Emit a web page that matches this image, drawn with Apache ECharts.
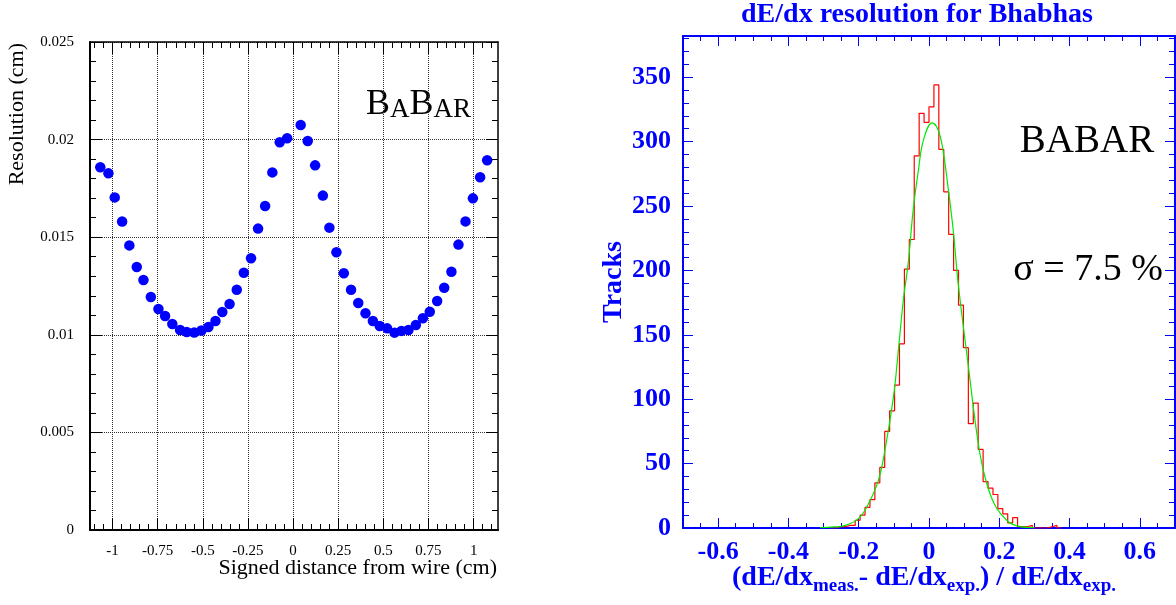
<!DOCTYPE html>
<html>
<head>
<meta charset="utf-8">
<script src="https://cdn.jsdelivr.net/npm/echarts@6/dist/echarts.min.js"></script>
<style>
  html, body { margin: 0; padding: 0; background: #ffffff; }
  #chart { width: 1176px; height: 605px; }
</style>
</head>
<body>
<div id="chart"></div>
<script>
///////////////////////////////////////////////////
// Used data
///////////////////////////////////////////////////

// Left panel: drift resolution vs signed distance from wire
var distance = [
  -1.068, -1.023, -0.988, -0.947, -0.907, -0.866, -0.829, -0.788, -0.746, -0.709,
  -0.669, -0.626, -0.589, -0.548, -0.508, -0.469, -0.430, -0.392, -0.352, -0.312,
  -0.273, -0.233, -0.194, -0.155, -0.115, -0.074, -0.033, 0.042, 0.081, 0.122,
  0.165, 0.201, 0.240, 0.281, 0.321, 0.361, 0.401, 0.442, 0.480, 0.521,
  0.562, 0.600, 0.639, 0.680, 0.719, 0.757, 0.798, 0.837, 0.877, 0.916,
  0.955, 0.996, 1.036, 1.075
];
var resolution = [
  0.01858, 0.01827, 0.01704, 0.01580, 0.01458, 0.01347, 0.01281, 0.01194, 0.01132, 0.01096,
  0.01055, 0.01025, 0.01014, 0.01012, 0.01022, 0.01040, 0.01071, 0.01117, 0.01158, 0.01231,
  0.01318, 0.01392, 0.01544, 0.01660, 0.01832, 0.01986, 0.02007, 0.02075, 0.01993, 0.01868,
  0.01713, 0.01549, 0.01423, 0.01315, 0.01231, 0.01163, 0.01110, 0.01071, 0.01045, 0.01033,
  0.01011, 0.01020, 0.01025, 0.01050, 0.01085, 0.01118, 0.01173, 0.01241, 0.01323, 0.01462,
  0.01581, 0.01699, 0.01807, 0.01894
];
var leftXTicks = [-1, -0.75, -0.5, -0.25, 0, 0.25, 0.5, 0.75, 1];
var leftYTicks = [0, 0.005, 0.01, 0.015, 0.02, 0.025];

// Right panel: dE/dx histogram (bins of 0.014 starting at -0.7), first listed bin = 30
var histStart = -0.7;
var binWidth = 0.014;
var firstBin = 30;
var counts = [
  0, 1, 1, 2, 2, 6, 10, 16, 22, 35,
  47, 75, 91, 111, 143, 201, 224, 289, 322, 315,
  327, 344, 294, 261, 228, 200, 173, 140, 81, 97,
  61, 36, 31, 26, 15, 11, 4, 8, 1, 1,
  2, 0, 0, 0, 1, 2, 0
];
// gaussian fit curve
var fitX = [-0.31, -0.27, -0.24, -0.2, -0.172, -0.144, -0.125, -0.101, -0.09, -0.073,
  -0.059, -0.045, -0.03, -0.016, 0.009, 0.026, 0.04, 0.054, 0.069, 0.083,
  0.11, 0.14, 0.159, 0.187, 0.225, 0.253, 0.3];
var fitY = [0.3, 0.8, 1.8, 7.5, 19, 37, 61, 102, 130, 177,
  206, 247, 278, 301, 314.5, 309, 293, 265, 231, 190,
  130, 66, 40, 18, 5, 1.5, 0.3];
var rightXTicks = [-0.6, -0.4, -0.2, 0, 0.2, 0.4, 0.6];
var rightYTicks = [0, 50, 100, 150, 200, 250, 300, 350];

// x title of the right panel: [text, is subscript]
var xTitleParts = [
  ['(dE/dx', false], ['meas.', true], ['- dE/dx', false],
  ['exp.', true], [') / dE/dx', false], ['exp.', true]
];

///////////////////////////////////////////////////
// Helpers
///////////////////////////////////////////////////
var serif = '"Liberation Serif", "Times New Roman", serif';
var blue = '#0000ff';

// minor tick positions between majors
function minorTicks(from, to, step, majors) {
  var out = [];
  var n = Math.round((to - from) / step);
  for (var i = 0; i <= n; i++) {
    var v = +(from + i * step).toFixed(4);
    if (majors.indexOf(v) < 0) out.push(v);
  }
  return out;
}

function frameAxis(o) {
  return {
    type: 'value',
    gridIndex: o.grid,
    position: o.pos,
    min: o.min,
    max: o.max,
    name: o.name || '',
    nameLocation: 'middle',
    nameGap: o.nameGap || 0,
    nameTextStyle: o.nameStyle || {},
    axisLine: {
      show: o.line !== false,
      onZero: false,
      lineStyle: { color: o.color, width: o.lineWidth || 2 },
    },
    axisTick: {
      show: true,
      inside: true,
      length: o.len,
      customValues: o.ticks,
      lineStyle: { color: o.color, width: 1 },
    },
    axisLabel: o.labels
      ? Object.assign({ show: true, customValues: o.ticks }, o.labels)
      : { show: false },
    splitLine: o.split
      ? { show: true, lineStyle: { color: '#333', type: 'dotted', width: 1 } }
      : { show: false },
    minorTick: { show: false },
    minorSplitLine: { show: false },
  };
}

// lay out the sub-scripted x title as separate text pieces
function subscriptTitle(parts, cx, cy) {
  var ctx = document.createElement('canvas').getContext('2d');
  var mainFont = 'bold 28px ' + serif;
  var subFont = 'bold 19px ' + serif;
  var widths = parts.map(function (p) {
    ctx.font = p[1] ? subFont : mainFont;
    return ctx.measureText(p[0]).width;
  });
  var total = widths.reduce(function (a, b) { return a + b; }, 0);
  var x = cx - total / 2;
  return parts.map(function (p, i) {
    var el = {
      type: 'text', x: x, y: p[1] ? cy + 8 : cy,
      style: {
        text: p[0], fontFamily: serif, fontWeight: 'bold', fontSize: p[1] ? 19 : 28,
        fill: blue, align: 'left', verticalAlign: 'middle',
      },
    };
    x += widths[i];
    return el;
  });
}

var L = { xmin: -1.125, xmax: 1.135, ymin: 0, ymax: 0.025 };
var R = { xmin: -0.7, xmax: 0.7, ymin: 0, ymax: 382 };

var leftXMinor = minorTicks(-1.1, 1.1, 0.05, leftXTicks);
var leftYMinor = minorTicks(0, 0.025, 0.001, leftYTicks);
var rightXMinor = minorTicks(-0.7, 0.7, 0.05, rightXTicks);
var rightYMinor = minorTicks(0, 380, 10, rightYTicks);

var leftLabel = { color: '#000', fontFamily: serif, fontSize: 15 };
var rightLabel = { color: blue, fontFamily: serif, fontSize: 26, fontWeight: 'bold' };

// histogram step data
var histData = [];
for (var i = 0; i < counts.length; i++) {
  histData.push([+(histStart + (firstBin + i) * binWidth).toFixed(4), counts[i]]);
}
histData.push([+(histStart + (firstBin + counts.length) * binWidth).toFixed(4), 0]);

var scatterData = distance.map(function (d, i) { return [d, resolution[i]]; });
var fitData = fitX.map(function (x, i) { return [x, fitY[i]]; });

///////////////////////////////////////////////////
// Chart
///////////////////////////////////////////////////
var option = {
  animation: false,
  backgroundColor: '#ffffff',
  grid: [
    { left: 90, top: 42, width: 408, height: 488 },
    { left: 683, top: 36, width: 492, height: 492 },
  ],
  xAxis: [
    frameAxis({ grid: 0, pos: 'bottom', min: L.xmin, max: L.xmax, color: '#000', len: 12,
      ticks: leftXTicks, labels: Object.assign({ margin: 14 }, leftLabel), split: true }),
    frameAxis({ grid: 0, pos: 'bottom', min: L.xmin, max: L.xmax, color: '#000', len: 6,
      ticks: leftXMinor, line: false }),
    frameAxis({ grid: 0, pos: 'top', min: L.xmin, max: L.xmax, color: '#000', len: 12,
      ticks: leftXTicks, lineWidth: 1.5 }),
    frameAxis({ grid: 0, pos: 'top', min: L.xmin, max: L.xmax, color: '#000', len: 6,
      ticks: leftXMinor, line: false }),
    frameAxis({ grid: 1, pos: 'bottom', min: R.xmin, max: R.xmax, color: blue, len: 10,
      ticks: rightXTicks, labels: Object.assign({ margin: 11 }, rightLabel) }),
    frameAxis({ grid: 1, pos: 'bottom', min: R.xmin, max: R.xmax, color: blue, len: 5,
      ticks: rightXMinor, line: false }),
    frameAxis({ grid: 1, pos: 'top', min: R.xmin, max: R.xmax, color: blue, len: 10,
      ticks: rightXTicks }),
    frameAxis({ grid: 1, pos: 'top', min: R.xmin, max: R.xmax, color: blue, len: 5,
      ticks: rightXMinor, line: false }),
  ],
  yAxis: [
    frameAxis({ grid: 0, pos: 'left', min: L.ymin, max: L.ymax, color: '#000', len: 12,
      ticks: leftYTicks, labels: Object.assign({ margin: 16 }, leftLabel), split: true }),
    frameAxis({ grid: 0, pos: 'left', min: L.ymin, max: L.ymax, color: '#000', len: 6,
      ticks: leftYMinor, line: false }),
    frameAxis({ grid: 0, pos: 'right', min: L.ymin, max: L.ymax, color: '#000', len: 12,
      ticks: leftYTicks, lineWidth: 1.5 }),
    frameAxis({ grid: 0, pos: 'right', min: L.ymin, max: L.ymax, color: '#000', len: 6,
      ticks: leftYMinor, line: false }),
    frameAxis({ grid: 1, pos: 'left', min: R.ymin, max: R.ymax, color: blue, len: 10,
      ticks: rightYTicks, labels: Object.assign({ margin: 12 }, rightLabel),
      name: 'Tracks', nameGap: 55,
      nameStyle: { color: blue, fontFamily: serif, fontSize: 28, fontWeight: 'bold' } }),
    frameAxis({ grid: 1, pos: 'left', min: R.ymin, max: R.ymax, color: blue, len: 6,
      ticks: rightYMinor, line: false }),
    frameAxis({ grid: 1, pos: 'right', min: R.ymin, max: R.ymax, color: blue, len: 10,
      ticks: rightYTicks }),
    frameAxis({ grid: 1, pos: 'right', min: R.ymin, max: R.ymax, color: blue, len: 6,
      ticks: rightYMinor, line: false }),
  ],
  series: [
    {
      name: 'Resolution',
      type: 'scatter',
      xAxisIndex: 0,
      yAxisIndex: 0,
      symbol: 'circle',
      symbolSize: 10.5,
      itemStyle: { color: blue, opacity: 1 },
      data: scatterData,
      z: 5,
    },
    {
      name: 'Bhabhas',
      type: 'line',
      xAxisIndex: 4,
      yAxisIndex: 4,
      step: 'end',
      showSymbol: false,
      lineStyle: { color: '#ff0000', width: 1.2 },
      data: histData,
      z: 4,
    },
    {
      name: 'Fit',
      type: 'line',
      xAxisIndex: 4,
      yAxisIndex: 4,
      smooth: 0.4,
      showSymbol: false,
      lineStyle: { color: '#00e800', width: 1.2 },
      data: fitData,
      z: 5,
    },
  ],
  graphic: [
    {
      type: 'text', x: 17, y: 43, rotation: Math.PI / 2,
      style: { text: 'Resolution (cm)', fontFamily: serif, fontSize: 22, fill: '#000',
        align: 'right', verticalAlign: 'middle' },
    },
    {
      type: 'text', x: 497, y: 568,
      style: { text: 'Signed distance from wire (cm)', fontFamily: serif, fontSize: 22, fill: '#000',
        align: 'right', verticalAlign: 'middle' },
    },
    {
      type: 'text', x: 366, y: 123,
      style: {
        text: '{a|B}{b|A}{a|B}{b|AR}', align: 'left', verticalAlign: 'bottom', fill: '#000',
        rich: {
          a: { fontFamily: serif, fontSize: 36, verticalAlign: 'bottom', fill: '#000' },
          b: { fontFamily: serif, fontSize: 27, verticalAlign: 'bottom', fill: '#000' },
        },
      },
    },
    {
      type: 'text', x: 917, y: 15,
      style: { text: 'dE/dx resolution for Bhabhas', fontFamily: serif, fontSize: 28, fontWeight: 'bold',
        fill: blue, align: 'center', verticalAlign: 'middle' },
    },
    {
      type: 'text', x: 1087, y: 142,
      style: { text: 'BABAR', fontFamily: serif, fontSize: 39, fill: '#000',
        align: 'center', verticalAlign: 'middle' },
    },
    {
      type: 'text', x: 1088, y: 270,
      style: { text: 'σ = 7.5 %', fontFamily: serif, fontSize: 38, fill: '#000',
        align: 'center', verticalAlign: 'middle' },
    },
  ].concat(subscriptTitle(xTitleParts, 924, 578)),
};

var myChart = echarts.init(document.getElementById('chart'), null, { renderer: 'canvas' });
myChart.setOption(option);
</script>
</body>
</html>
